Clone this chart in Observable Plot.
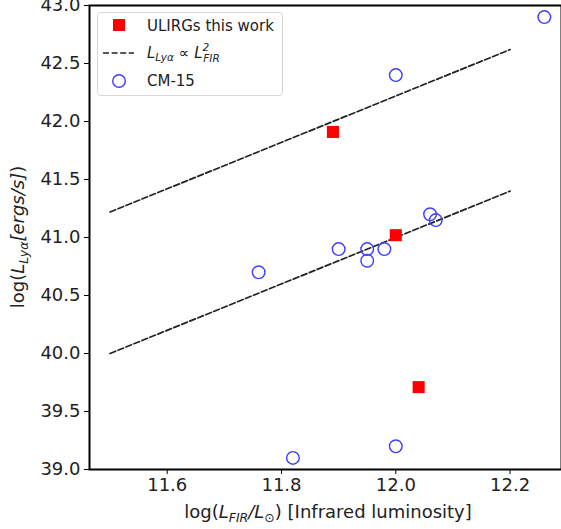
<!DOCTYPE html>
<html>
<head>
<meta charset="utf-8">
<script src="https://cdn.jsdelivr.net/npm/d3@7"></script>
<script src="https://cdn.jsdelivr.net/npm/@observablehq/plot@0.6"></script>
<style>
  html, body { margin: 0; padding: 0; background: #fff; }
  svg { font-family: "DejaVu Sans", sans-serif; }
</style>
</head>
<body>
<div id="chart"></div>
<script>
// ULIRGs this work (red squares)
const ulirgX = [11.89, 12.00, 12.04];
const ulirgY = [41.91, 41.02, 39.71];
// CM-15 (blue open circles)
const cmX = [11.76, 11.82, 11.90, 11.95, 11.95, 11.98, 12.00, 12.00, 12.06, 12.07, 12.26];
const cmY = [40.70, 39.10, 40.90, 40.90, 40.80, 40.90, 39.20, 42.40, 41.20, 41.15, 42.90];
// L_Lya ∝ L_FIR^2 reference lines (endpoints)
const lineX = [11.5, 12.2];
const lowerY = [40.0, 41.4];
const upperY = [41.22, 42.62];
const xTicks = [11.6, 11.8, 12.0, 12.2];
const yTicks = [39.0, 39.5, 40.0, 40.5, 41.0, 41.5, 42.0, 42.5, 43.0];

const ulirg = ulirgX.map((x, i) => ({x, y: ulirgY[i]}));
const cm = cmX.map((x, i) => ({x, y: cmY[i]}));
const lower = lineX.map((x, i) => ({x, y: lowerY[i]}));
const upper = lineX.map((x, i) => ({x, y: upperY[i]}));

const W = 561, H = 529;
const chart = Plot.plot({
  width: W, height: H,
  marginLeft: 89, marginRight: 0, marginTop: 5, marginBottom: 60,
  style: {fontFamily: "DejaVu Sans, sans-serif", fontSize: "18px", color: "#000", background: "#fff"},
  x: {domain: [11.464, 12.29], ticks: xTicks, tickFormat: d3.format(".1f"), tickSize: 5, tickPadding: 4, label: null},
  y: {domain: [39.0, 43.0], ticks: yTicks, tickFormat: d3.format(".1f"), tickSize: 5, tickPadding: 4, label: null},
  marks: [
    Plot.line(lower, {x: "x", y: "y", stroke: "#222", strokeWidth: 1.7, strokeDasharray: "6,2.6"}),
    Plot.line(upper, {x: "x", y: "y", stroke: "#222", strokeWidth: 1.7, strokeDasharray: "6,2.6"}),
    Plot.dot(cm, {x: "x", y: "y", r: 6.3, stroke: "#3d3dff", strokeWidth: 1.4, fill: "none"}),
    Plot.dot(ulirg, {x: "x", y: "y", symbol: "square", r: 6.8, fill: "#ff0000", stroke: "none"}),
    Plot.frame({stroke: "#000", strokeWidth: 2})
  ]
});
document.getElementById("chart").appendChild(chart);

const svg = d3.select(chart);
svg.selectAll("g[aria-label='x-axis tick label'] text, g[aria-label='y-axis tick label'] text").attr("fill", "#222");

// Axis labels
const xl = svg.append("text").attr("x", 328).attr("y", 518).attr("text-anchor", "middle")
  .attr("font-size", 18).attr("fill", "#222");
xl.append("tspan").text("log(");
xl.append("tspan").attr("font-style", "italic").text("L");
xl.append("tspan").attr("font-style", "italic").attr("font-size", 12.5).attr("dy", 4).text("FIR");
xl.append("tspan").attr("dy", -4).attr("font-style", "italic").text("/L");
xl.append("tspan").attr("font-size", 12.5).attr("dy", 4).text("⊙");
xl.append("tspan").attr("dy", -4).text(") [Infrared luminosity]");

const yl = svg.append("text").attr("transform", "translate(24,237) rotate(-90)").attr("text-anchor", "middle")
  .attr("font-size", 18).attr("fill", "#222");
yl.append("tspan").text("log(");
yl.append("tspan").attr("font-style", "italic").text("L");
yl.append("tspan").attr("font-style", "italic").attr("font-size", 12.5).attr("dy", 4).text("Lyα");
yl.append("tspan").attr("dy", -4).attr("font-style", "italic").text("[ergs/s]");
yl.append("tspan").text(")");

// Legend
const lg = svg.append("g").attr("font-size", 15).attr("fill", "#222").attr("text-anchor", "start");
lg.append("rect").attr("x", 97.5).attr("y", 12.5).attr("width", 185).attr("height", 83).attr("rx", 3)
  .attr("fill", "#fff").attr("fill-opacity", 0.85).attr("stroke", "#d6d6d6");
lg.append("rect").attr("x", 113).attr("y", 19).attr("width", 12).attr("height", 12).attr("fill", "#ff0000");
lg.append("text").attr("x", 147).attr("y", 31).text("ULIRGs this work");
lg.append("line").attr("x1", 103).attr("x2", 134).attr("y1", 53).attr("y2", 53)
  .attr("stroke", "#222").attr("stroke-width", 1.7).attr("stroke-dasharray", "6,2.6");
const t2 = lg.append("text").attr("x", 147).attr("y", 58).attr("font-style", "italic");
t2.append("tspan").text("L");
t2.append("tspan").attr("font-size", 10.5).attr("dy", 3).text("Lyα");
t2.append("tspan").attr("dy", -3).attr("font-style", "normal").text(" ∝ ");
t2.append("tspan").text("L");
t2.append("tspan").attr("font-size", 10.5).attr("dy", -7).text("2");
t2.append("tspan").attr("font-size", 10.5).attr("dx", -6).attr("dy", 11).text("FIR");
lg.append("circle").attr("cx", 119).attr("cy", 81).attr("r", 6.3).attr("fill", "none")
  .attr("stroke", "#3d3dff").attr("stroke-width", 1.4);
lg.append("text").attr("x", 147).attr("y", 86).text("CM-15");
</script>
</body>
</html>
